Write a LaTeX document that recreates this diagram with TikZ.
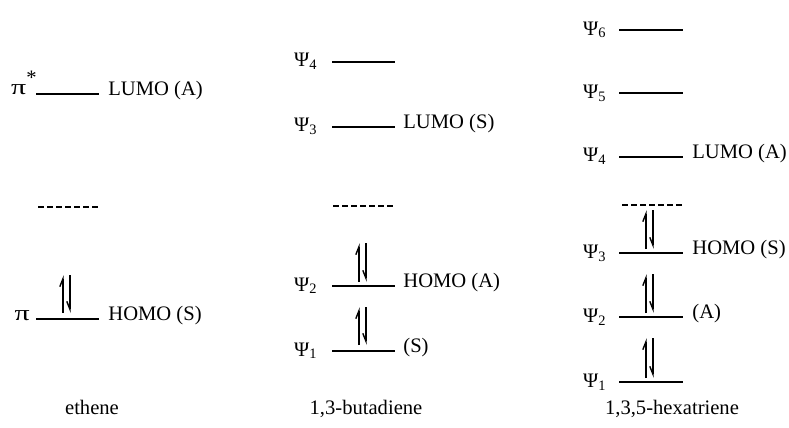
\documentclass[tikz,border=0pt]{standalone}
\usepackage{fontspec}
\setmainfont{Liberation Serif}
\usetikzlibrary{arrows.meta}
\tikzset{
  level/.style={line width=0.7pt},
  gap/.style={line width=0.6pt, dash pattern=on 2.8pt off 1.7pt},
  spinup/.style={line width=0.7pt, -{Straight Barb[left,length=4pt,width=3.2pt]}},
  spindown/.style={line width=0.7pt, -{Straight Barb[right,length=4pt,width=3.2pt]}},
  orb/.style={anchor=base east, inner sep=0pt},
  sym/.style={anchor=base west, inner sep=0pt},
  molname/.style={anchor=base, inner sep=0pt},
}
\newcommand{\bigpi}{\scalebox{1.45}[1.05]{π}}

\begin{document}
\begin{tikzpicture}[x=0.5pt, y=-0.5pt, font=\fontsize{10.3}{12}\selectfont]
    \useasboundingbox (0,0) rectangle (789,428);

    % Ethene levels
    \coordinate (eS) at (36,94);  \coordinate (eE) at (99,94);
    \coordinate (eM) at (38,207); \coordinate (eN) at (99,207);
    \coordinate (eA) at (36,319); \coordinate (eB) at (99,319);
    \draw[level] (eS) -- (eE);
    \draw[gap]   (eM) -- (eN);
    \draw[level] (eA) -- (eB);

    \node[orb] (pistar) at (37,95)  {\bigpi\raisebox{0.5em}{*}};
    \node[orb] (pi)     at (30,320) {\bigpi};
    \node[sym] (elumo)  at (108,96)  {LUMO (A)};
    \node[sym] (ehomo)  at (108,320) {HOMO (S)};

    \draw[spinup]   (63,313) -- (63,275);
    \draw[spindown] (70,275) -- (70,313);

    % Butadiene levels
    \coordinate (b4a) at (332,62);  \coordinate (b4b) at (395,62);
    \coordinate (b3a) at (332,127); \coordinate (b3b) at (395,127);
    \coordinate (bMa) at (333,206); \coordinate (bMb) at (394,206);
    \coordinate (b2a) at (332,286); \coordinate (b2b) at (395,286);
    \coordinate (b1a) at (332,351); \coordinate (b1b) at (395,351);
    \draw[level] (b4a) -- (b4b);
    \draw[level] (b3a) -- (b3b);
    \draw[gap]   (bMa) -- (bMb);
    \draw[level] (b2a) -- (b2b);
    \draw[level] (b1a) -- (b1b);

    \node[orb] (bpsi4) at (318,67)  {Ψ\textsubscript{4}};
    \node[orb] (bpsi3) at (318,132) {Ψ\textsubscript{3}};
    \node[orb] (bpsi2) at (318,291) {Ψ\textsubscript{2}};
    \node[orb] (bpsi1) at (318,356) {Ψ\textsubscript{1}};
    \node[sym] (blumo) at (403,128) {LUMO (S)};
    \node[sym] (bhomo) at (403,287) {HOMO (A)};
    \node[sym] (bsym1) at (403,352) {(S)};

    \draw[spinup]   (359,282) -- (359,243);
    \draw[spindown] (366,243) -- (366,282);
    \draw[spinup]   (359,345) -- (359,307);
    \draw[spindown] (366,307) -- (366,345);

    % Hexatriene levels
    \coordinate (h6a) at (619,30);  \coordinate (h6b) at (683,30);
    \coordinate (h5a) at (619,93);  \coordinate (h5b) at (683,93);
    \coordinate (h4a) at (619,157); \coordinate (h4b) at (683,157);
    \coordinate (hMa) at (622,205); \coordinate (hMb) at (684,205);
    \coordinate (h3a) at (619,253); \coordinate (h3b) at (683,253);
    \coordinate (h2a) at (619,317); \coordinate (h2b) at (683,317);
    \coordinate (h1a) at (619,382); \coordinate (h1b) at (683,382);
    \draw[level] (h6a) -- (h6b);
    \draw[level] (h5a) -- (h5b);
    \draw[level] (h4a) -- (h4b);
    \draw[gap]   (hMa) -- (hMb);
    \draw[level] (h3a) -- (h3b);
    \draw[level] (h2a) -- (h2b);
    \draw[level] (h1a) -- (h1b);

    \node[orb] (hpsi6) at (607,35)  {Ψ\textsubscript{6}};
    \node[orb] (hpsi5) at (607,98)  {Ψ\textsubscript{5}};
    \node[orb] (hpsi4) at (607,162) {Ψ\textsubscript{4}};
    \node[orb] (hpsi3) at (607,258) {Ψ\textsubscript{3}};
    \node[orb] (hpsi2) at (607,322) {Ψ\textsubscript{2}};
    \node[orb] (hpsi1) at (607,387) {Ψ\textsubscript{1}};
    \node[sym] (hlumo) at (692,158) {LUMO (A)};
    \node[sym] (hhomo) at (692,254) {HOMO (S)};
    \node[sym] (hsym2) at (692,318) {(A)};

    \draw[spinup]   (646,249) -- (646,210);
    \draw[spindown] (653,210) -- (653,249);
    \draw[spinup]   (646,313) -- (646,274);
    \draw[spindown] (653,274) -- (653,313);
    \draw[spinup]   (646,378) -- (646,338);
    \draw[spindown] (653,338) -- (653,378);

    % Molecule names
    \node[molname] (ethene)     at (92,414)  {ethene};
    \node[molname] (butadiene)  at (366,414) {1,3-butadiene};
    \node[molname] (hexatriene) at (672,414) {1,3,5-hexatriene};
\end{tikzpicture}
\end{document}
